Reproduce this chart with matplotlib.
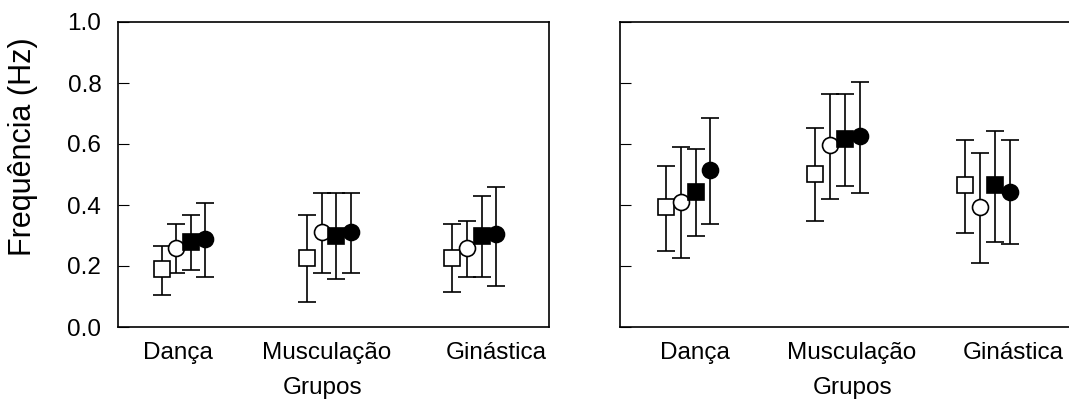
import matplotlib
matplotlib.use("Agg")
import matplotlib.pyplot as plt
import numpy as np

plt.rcParams["font.family"] = ["Liberation Sans", "DejaVu Sans"]

grupos = ["Dança", "Musculação", "Ginástica"]

# painel esquerdo: media, limite inferior e superior de cada serie
esq_media_qa = [0.19, 0.225, 0.225]
esq_inf_qa = [0.105, 0.083, 0.114]
esq_sup_qa = [0.265, 0.367, 0.338]
esq_media_ca = [0.258, 0.31, 0.258]
esq_inf_ca = [0.176, 0.176, 0.165]
esq_sup_ca = [0.338, 0.438, 0.349]
esq_media_qc = [0.28, 0.30, 0.30]
esq_inf_qc = [0.187, 0.156, 0.165]
esq_sup_qc = [0.367, 0.438, 0.43]
esq_media_cc = [0.288, 0.31, 0.304]
esq_inf_cc = [0.165, 0.176, 0.135]
esq_sup_cc = [0.405, 0.438, 0.46]

# painel direito
dir_media_qa = [0.392, 0.502, 0.466]
dir_inf_qa = [0.249, 0.349, 0.307]
dir_sup_qa = [0.529, 0.654, 0.613]
dir_media_ca = [0.411, 0.597, 0.392]
dir_inf_ca = [0.227, 0.421, 0.209]
dir_sup_ca = [0.591, 0.763, 0.571]
dir_media_qc = [0.441, 0.615, 0.466]
dir_inf_qc = [0.298, 0.462, 0.28]
dir_sup_qc = [0.582, 0.763, 0.643]
dir_media_cc = [0.515, 0.627, 0.444]
dir_inf_cc = [0.338, 0.44, 0.271]
dir_sup_cc = [0.684, 0.804, 0.613]

# marcador, preenchimento, deslocamento em x
estilos = [("s", "white", -0.15), ("o", "white", -0.05),
           ("s", "black", 0.05), ("o", "black", 0.15)]

fig = plt.figure(figsize=(10.69, 4.05), dpi=100)
ax1 = fig.add_axes([118 / 1069, 78 / 405, 431 / 1069, 305 / 405])
ax2 = fig.add_axes([620 / 1069, 78 / 405, 452 / 1069, 305 / 405])


def desenha(ax, medias, infs, sups, xlim, tick_x, grupos_x):
    x = np.arange(1, 4)
    for (m, fc, dx), med, lo, hi in zip(estilos, medias, infs, sups):
        med = np.array(med)
        yerr = [med - np.array(lo), np.array(hi) - med]
        ax.errorbar(x + dx, med, yerr=yerr, fmt=m, ms=11.5, mfc=fc, mec="black",
                    mew=1.2, ecolor="black", elinewidth=1.2, capsize=6.5,
                    capthick=1.2)
    ax.set_xlim(*xlim)
    ax.set_ylim(0, 1)
    ax.set_yticks([0, 0.2, 0.4, 0.6, 0.8, 1.0])
    ax.set_xticks(tick_x)
    ax.set_xticklabels(grupos, fontsize=17.5)
    ax.tick_params(axis="x", length=0, pad=11)
    ax.tick_params(axis="y", direction="in", length=8, width=0.8,
                   colors="black", labelsize=17.5, pad=12)
    for s in ax.spines.values():
        s.set_linewidth(1.2)
    ax.set_xlabel("Grupos", fontsize=17.5)
    ax.xaxis.set_label_coords(grupos_x, -0.2)
    ax.xaxis.label.set_va("center")


desenha(ax1,
        [esq_media_qa, esq_media_ca, esq_media_qc, esq_media_cc],
        [esq_inf_qa, esq_inf_ca, esq_inf_qc, esq_inf_cc],
        [esq_sup_qa, esq_sup_ca, esq_sup_qc, esq_sup_cc],
        (0.5495, 3.514), [0.962, 1.985, 3.154], (323 - 118) / 431)
ax1.set_yticklabels(["0.0", "0.2", "0.4", "0.6", "0.8", "1.0"])
ax1.set_ylabel("Frequência (Hz)", fontsize=22)
ax1.yaxis.set_label_coords(-0.22, 0.59)
ax1.yaxis.label.set_va("center")

desenha(ax2,
        [dir_media_qa, dir_media_ca, dir_media_qc, dir_media_cc],
        [dir_inf_qa, dir_inf_ca, dir_inf_qc, dir_inf_cc],
        [dir_sup_qa, dir_sup_ca, dir_sup_qc, dir_sup_cc],
        (0.5456, 3.565), [1.047, 2.094, 3.172], (853 - 620) / 452)
ax2.tick_params(axis="y", labelleft=False)

fig.savefig("out.png", dpi=100)
